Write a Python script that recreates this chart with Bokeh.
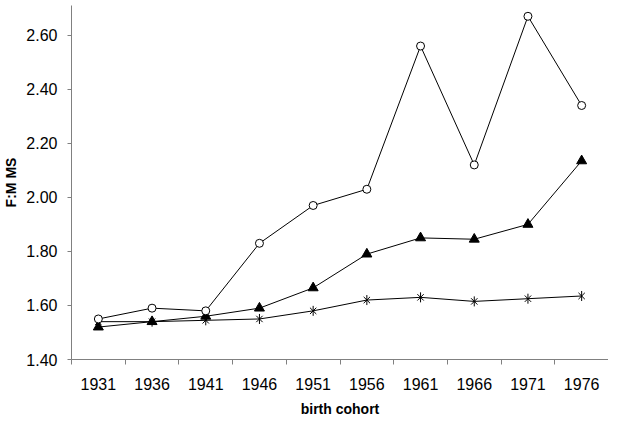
from bokeh.plotting import figure
from bokeh.models import Range1d, FixedTicker, NumeralTickFormatter, ColumnDataSource
from bokeh.embed import file_html
from bokeh.resources import INLINE
import math

cohorts = ["1931", "1936", "1941", "1946", "1951", "1956", "1961", "1966", "1971", "1976"]
series_circle = [1.55, 1.59, 1.58, 1.83, 1.97, 2.03, 2.56, 2.12, 2.67, 2.34]
series_triangle = [1.52, 1.54, 1.56, 1.59, 1.665, 1.79, 1.85, 1.845, 1.90, 2.135]
series_star = [1.54, 1.54, 1.545, 1.55, 1.58, 1.62, 1.63, 1.615, 1.625, 1.635]
y_ticks = [1.40, 1.60, 1.80, 2.00, 2.20, 2.40, 2.60]

xpos = [i + 0.5 for i in range(len(cohorts))]

p = figure(width=608, height=419, output_backend="svg", toolbar_location=None,
           x_range=Range1d(0, len(cohorts)), y_range=Range1d(1.40, 2.71),
           min_border_left=64, min_border_right=0, min_border_top=5, min_border_bottom=60)
p.outline_line_color = None
p.grid.grid_line_color = None
p.background_fill_color = "white"

FONT = "Liberation Sans"
AXIS_COLOR = "#808080"

# x axis
xa = p.xaxis[0]
xa.ticker = FixedTicker(ticks=xpos, minor_ticks=list(range(len(cohorts) + 1)))
xa.major_label_overrides = {x: c for x, c in zip(xpos, cohorts)}
xa.major_tick_line_color = None
xa.major_tick_out = 5
xa.minor_tick_line_color = AXIS_COLOR
xa.minor_tick_out = 5
xa.minor_tick_in = 0
xa.axis_line_color = AXIS_COLOR
xa.major_label_text_font = FONT
xa.major_label_text_font_size = "16px"
xa.major_label_text_color = "black"
xa.major_label_text_line_height = 1.0
xa.major_label_standoff = 13
xa.axis_label = "birth cohort"
xa.axis_label_text_font = FONT
xa.axis_label_text_font_style = "bold"
xa.axis_label_text_font_size = "14px"
xa.axis_label_text_color = "black"
xa.axis_label_text_line_height = 1.0
xa.axis_label_standoff = 8

# y axis
ya = p.yaxis[0]
ya.ticker = FixedTicker(ticks=y_ticks, minor_ticks=[])
ya.formatter = NumeralTickFormatter(format="0.00")
ya.major_tick_line_color = AXIS_COLOR
ya.major_tick_out = 4
ya.major_tick_in = 0
ya.minor_tick_line_color = None
ya.axis_line_color = AXIS_COLOR
ya.major_label_text_font = FONT
ya.major_label_text_font_size = "16px"
ya.major_label_text_color = "black"
ya.major_label_standoff = 10
ya.axis_label = "F:M MS"
ya.axis_label_text_font = FONT
ya.axis_label_text_font_style = "bold"
ya.axis_label_text_font_size = "14px"
ya.axis_label_text_color = "black"
ya.axis_label_text_line_height = 1.0
ya.axis_label_standoff = 4

src = ColumnDataSource(dict(x=xpos, c=series_circle, t=series_triangle, s=series_star))

for col in ["t", "s", "c"]:
    p.line("x", col, source=src, line_color="black", line_width=1)

p.scatter("x", "t", source=src, marker="triangle", size=10, fill_color="black", line_color="black")
p.scatter("x", "s", source=src, marker="x", size=9, line_color="black", line_width=1)
p.scatter("x", "s", source=src, marker="dash", size=10, angle=math.pi / 2, line_color="black", line_width=1)
p.scatter("x", "c", source=src, marker="circle", size=8, fill_color="white", line_color="black", line_width=1)

open("out.html", "w").write(file_html(p, INLINE))
